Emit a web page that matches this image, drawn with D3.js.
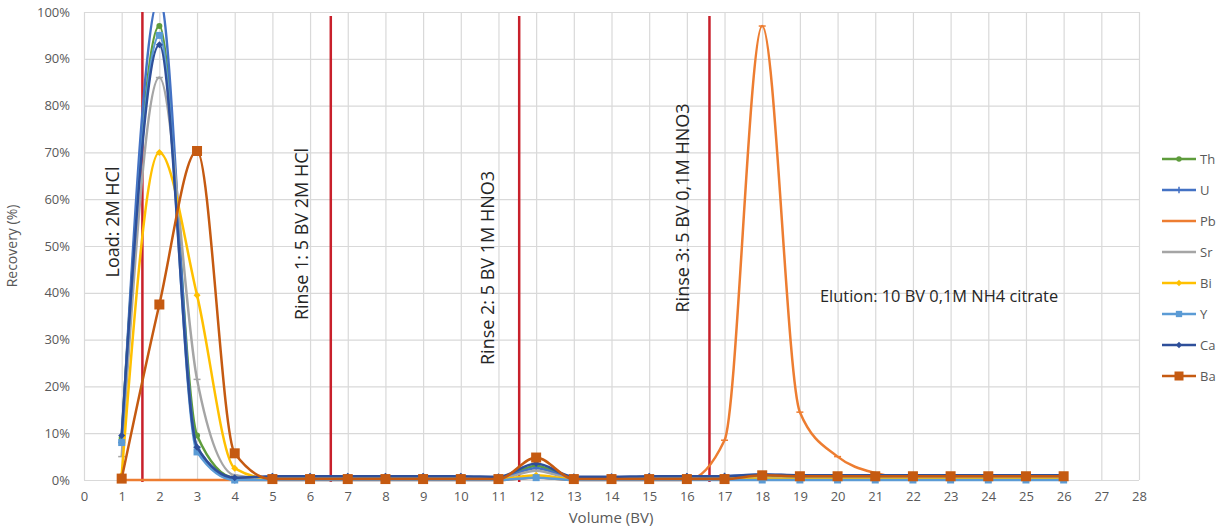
<!DOCTYPE html>
<html><head><meta charset="utf-8">
<script src="https://cdn.jsdelivr.net/npm/d3@7"></script>
<style>body{margin:0;background:#fff;font-family:"Open Sans",sans-serif}</style>
</head><body><svg id="c" width="1219" height="530"></svg>
<script>
const volumes = d3.range(1, 27);
const seriesNames = ["Th","U","Pb","Sr","Bi","Y","Ca","Ba"];
const Th = [9,97,9.5,0.5,0.5,0.5,0.5,0.5,0.5,0.5,0.5,3,0.5,0.5,0.5,0.5,0.5,1,0.5,0.5,0.5,0.5,0.5,0.5,0.5,0.5];
const U  = [8,103,7,0,0.6,0.6,0.6,0.6,0.6,0.6,0.5,2.5,0.5,0.6,0.6,0.7,0.8,1.2,0.9,0.9,0.9,0.9,0.9,0.9,0.9,0.9];
const Pb = [0,0,0,0,0,0,0,0,0,0,0,0.5,0,0,0,0,8.5,97,14.5,5,1.5,0.4,0.3,0.3,0.3,0.3];
const Sr = [5,86,21.5,1,0.3,0.3,0.3,0.3,0.3,0.3,0.3,2,0.3,0.3,0.3,0.3,0.3,0.5,0.3,0.3,0.3,0.3,0.3,0.3,0.3,0.3];
const Bi = [1,70,39.5,2.5,0.2,0.2,0.2,0.2,0.2,0.2,0.2,1,0.2,0.2,0.2,0.2,0.2,0.3,0.2,0.2,0.2,0.2,0.2,0.2,0.2,0.2];
const Yv = [8,95,6,0,0,0,0,0,0,0,0,0.5,0,0,0,0,0,0,0,0,0,0,0,0,0,0];
const Ca = [9.5,93,7,0.5,0.8,0.8,0.8,0.8,0.8,0.8,0.7,3.5,0.7,0.7,0.8,0.8,0.8,1.2,1,1,1,1,1,1,1,1];
const Ba = [0.3,37.5,70.3,5.7,0.2,0.2,0.2,0.2,0.2,0.2,0.2,4.8,0.2,0.2,0.2,0.2,0.2,1,0.8,0.8,0.8,0.8,0.8,0.8,0.8,0.8];
const xTicks = d3.range(0, 29);
const yTicks = d3.range(0, 101, 10);
const phaseLines = [1.55, 6.55, 11.55, 16.6];
const phaseLabels = ["Load: 2M HCl","Rinse 1: 5 BV 2M HCl","Rinse 2: 5 BV 1M HNO3","Rinse 3: 5 BV 0,1M HNO3"];
const elutionLabel = "Elution: 10 BV 0,1M NH4 citrate";

const values = {Th, U, Pb, Sr, Bi, Y: Yv, Ca, Ba};
const styles = {
  Th:{color:"#5E9C3C", marker:"circle", size:6},
  U:{color:"#4472C4", marker:"plus", size:7},
  Pb:{color:"#ED7D31", marker:"dash", size:7},
  Sr:{color:"#A5A5A5", marker:"dash", size:7},
  Bi:{color:"#FFC000", marker:"diamond", size:7},
  Y:{color:"#5B9BD5", marker:"square", size:7},
  Ca:{color:"#2E4F9A", marker:"diamond", size:7},
  Ba:{color:"#C55A11", marker:"square", size:10}
};

const svg = d3.select("#c");
const x = d3.scaleLinear().domain([0,28]).range([84,1139]);
const y = d3.scaleLinear().domain([0,100]).range([480,12]);

// gridlines
svg.append("g").attr("transform","translate(0,12)")
  .call(d3.axisBottom(x).tickValues(xTicks).tickSize(468).tickFormat(""))
  .call(g=>{g.select(".domain").remove();g.selectAll("line").attr("stroke","#d9d9d9").attr("stroke-width",1.2);});
svg.append("g").attr("transform","translate(1139,0)")
  .call(d3.axisLeft(y).tickValues(yTicks).tickSize(1055).tickFormat(""))
  .call(g=>{g.select(".domain").remove();g.selectAll("line").attr("stroke","#d9d9d9").attr("stroke-width",1.2);});

// axes labels
svg.append("g").attr("transform","translate(0,480)")
  .call(d3.axisBottom(x).tickValues(xTicks).tickSize(0).tickPadding(12).tickFormat(d3.format("d")))
  .call(g=>{g.select(".domain").remove();g.selectAll("text").attr("fill","#595959").attr("font-size",13).attr("font-family","Open Sans, sans-serif");});
svg.append("g").attr("transform","translate(84,0)")
  .call(d3.axisLeft(y).tickValues(yTicks).tickSize(0).tickPadding(14).tickFormat(d=>d+"%"))
  .call(g=>{g.select(".domain").remove();g.selectAll("text").attr("fill","#595959").attr("font-size",13).attr("font-family","Open Sans, sans-serif");});

svg.append("text").attr("x",611).attr("y",523).attr("text-anchor","middle")
  .attr("fill","#595959").attr("font-size",15).text("Volume (BV)");
svg.append("text").attr("transform","translate(17,246) rotate(-90)").attr("text-anchor","middle")
  .attr("fill","#595959").attr("font-size",14).text("Recovery (%)");

// clip
svg.append("clipPath").attr("id","pa").append("rect").attr("x",60).attr("y",12).attr("width",1100).attr("height",480);

// phase lines
svg.append("g").selectAll("line").data(phaseLines).join("line")
  .attr("x1",d=>x(d)).attr("x2",d=>x(d)).attr("y1",(d,i)=>i===0?12:16).attr("y2",482)
  .attr("stroke","#C8202B").attr("stroke-width",2.5);

// series
const line = d3.line().x((d,i)=>x(volumes[i])).y(d=>y(d)).curve(d3.curveMonotoneX);
const gS = svg.append("g").attr("clip-path","url(#pa)");
function marker(g, type, size, color){
  const h=size/2;
  if(type==="circle") g.append("circle").attr("r",h).attr("fill",color);
  else if(type==="square") g.append("rect").attr("x",-h).attr("y",-h).attr("width",size).attr("height",size).attr("fill",color);
  else if(type==="diamond") g.append("path").attr("d",`M0,${-h}L${h},0L0,${h}L${-h},0Z`).attr("fill",color);
  else if(type==="plus") g.append("path").attr("d",`M${-h},0H${h}M0,${-h}V${h}`).attr("stroke",color).attr("stroke-width",1.5);
  else if(type==="dash") g.append("path").attr("d",`M${-h},0H${h}`).attr("stroke",color).attr("stroke-width",1.5);
}
seriesNames.forEach(n=>{
  const s=styles[n];
  gS.append("path").datum(values[n]).attr("d",line).attr("fill","none")
    .attr("stroke",s.color).attr("stroke-width",2.5);
  values[n].forEach((v,i)=>{
    const m=gS.append("g").attr("transform",`translate(${x(volumes[i])},${y(v)})`);
    marker(m,s.marker,s.size,s.color);
  });
});

// phase labels
const labelPos = [[113,222],[302,234],[488,268],[683,208]];
phaseLabels.forEach((t,i)=>{
  svg.append("text").attr("transform",`translate(${labelPos[i][0]+6},${labelPos[i][1]}) rotate(-90)`)
    .attr("text-anchor","middle").attr("fill","#262626").attr("font-size",18).text(t);
});
svg.append("text").attr("x",820).attr("y",302).attr("fill","#262626").attr("font-size",16.4).text(elutionLabel);

// legend
const lg = svg.append("g");
seriesNames.forEach((n,i)=>{
  const s=styles[n]; const ly=159+i*31;
  lg.append("line").attr("x1",1162).attr("x2",1196).attr("y1",ly).attr("y2",ly).attr("stroke",s.color).attr("stroke-width",2.5);
  if(n!=="Pb" && n!=="Sr"){const m=lg.append("g").attr("transform",`translate(1179,${ly})`); marker(m,s.marker,s.size*0.9,s.color);}
  lg.append("text").attr("x",1200).attr("y",ly+5).attr("fill","#595959").attr("font-size",13).text(n);
});
</script></body></html>
